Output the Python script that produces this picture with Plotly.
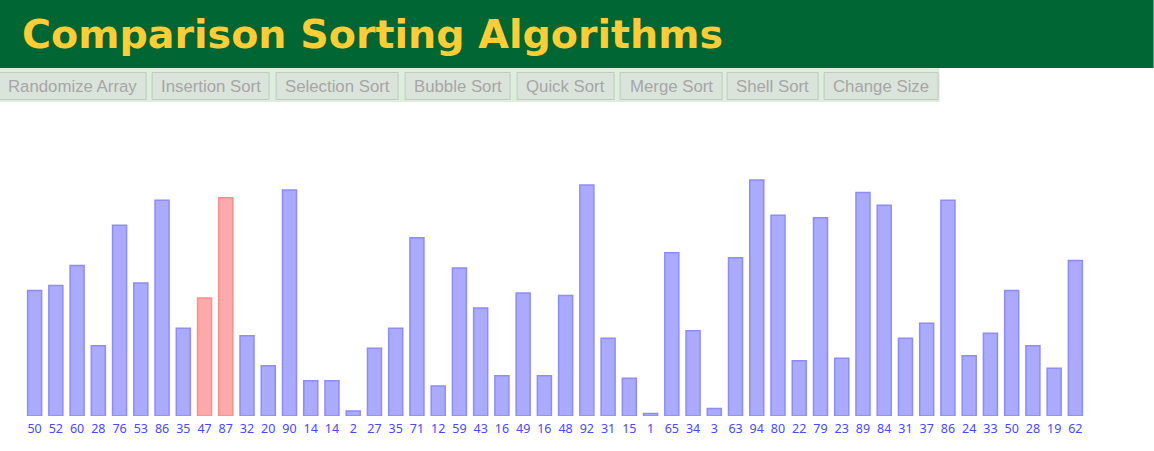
import plotly.graph_objects as go

# Array being sorted, and the two slots currently being compared
values = [50, 52, 60, 28, 76, 53, 86, 35, 47, 87, 32, 20, 90, 14, 14, 2, 27, 35, 71, 12,
          59, 43, 16, 49, 16, 48, 92, 31, 15, 1, 65, 34, 3, 63, 94, 80, 22, 79, 23, 89,
          84, 31, 37, 86, 24, 33, 50, 28, 19, 62]
highlighted = [8, 9]

buttons = ["Randomize Array", "Insertion Sort", "Selection Sort", "Bubble Sort",
           "Quick Sort", "Merge Sort", "Shell Sort", "Change Size"]
# left/right pixel edges of each toolbar button
button_edges = [(-1, 147), (152, 270), (276, 399), (405, 511),
                (517, 615), (620, 723), (727, 819), (824, 939)]

W, H = 1154, 451
ML, MR, MT, MB = 24.4, 67.6, 165, 35
PW, PH = W - ML - MR, H - MT - MB


def px(x):
    return (x - ML) / PW


def py(y):
    return (H - MB - y) / PH


idx = list(range(len(values)))
fill = ["#ffaaaa" if i in highlighted else "#aaaaff" for i in idx]
edge = ["#ff8c8c" if i in highlighted else "#8c8cff" for i in idx]

fig = go.Figure(go.Bar(
    x=idx, y=values,
    marker=dict(color=fill, line=dict(color=edge, width=1.5)),
    hoverinfo="skip",
))

shapes = [
    # page header
    dict(type="rect", xref="paper", yref="paper", x0=px(0), x1=px(W), y0=py(0), y1=py(68),
         fillcolor="#006633", line=dict(width=0), layer="below"),
    # toolbar strip
    dict(type="rect", xref="paper", yref="paper", x0=px(0), x1=px(940), y0=py(68), y1=py(102),
         fillcolor="#ddeedd", line=dict(width=0), layer="below"),
]
annotations = [
    dict(text="<b>Comparison Sorting Algorithms</b>", xref="paper", yref="paper",
         x=px(20), y=py(34), xanchor="left", yanchor="middle", showarrow=False,
         font=dict(family="DejaVu Sans", size=39.6, color="#ffcc33")),
]
for label, (x0, x1) in zip(buttons, button_edges):
    shapes.append(dict(type="rect", xref="paper", yref="paper",
                       x0=px(x0 + 0.5), x1=px(x1 - 0.5), y0=py(72.5), y1=py(99.5),
                       fillcolor="#dbe4db", line=dict(color="#c2c8c2", width=1), layer="below"))
    annotations.append(dict(text=label, xref="paper", yref="paper",
                            x=px((x0 + x1) / 2), y=py(86), xanchor="center", yanchor="middle",
                            showarrow=False,
                            font=dict(family="Liberation Sans", size=16.8, color="#a6a6a6")))

fig.update_layout(
    width=W, height=H,
    margin=dict(l=ML, r=MR, t=MT, b=MB, pad=0),
    paper_bgcolor="white", plot_bgcolor="white",
    bargap=0.34, showlegend=False,
    shapes=shapes, annotations=annotations,
    xaxis=dict(range=[-0.5, len(values) - 0.5], tickmode="array", tickvals=idx,
               ticktext=[str(v) for v in values], showgrid=False, zeroline=False,
               showline=False, ticks="", tickangle=0, ticklabelstandoff=3,
               tickfont=dict(family="Noto Sans", size=12.5, color="#4848ff"), fixedrange=True),
    yaxis=dict(range=[0, 100], visible=False, fixedrange=True),
)

fig.write_html("out.html", config={"displayModeBar": False})
